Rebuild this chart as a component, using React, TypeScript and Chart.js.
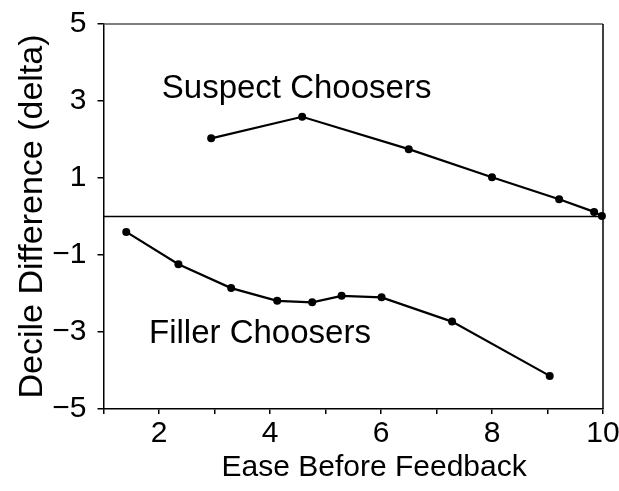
import React, { useEffect, useRef } from 'react';
import { Chart, registerables } from 'chart.js';

Chart.register(...registerables);

const suspectX = [2.94, 4.58, 6.5, 8.0, 9.21, 9.84, 9.98];
const suspectY = [2.03, 2.59, 1.75, 1.02, 0.45, 0.12, 0.01];
const fillerX = [1.41, 2.35, 3.3, 4.13, 4.76, 5.29, 6.01, 7.28, 9.04];
const fillerY = [-0.4, -1.24, -1.86, -2.19, -2.23, -2.06, -2.1, -2.73, -4.14];
const xTicks = [1, 2, 3, 4, 5, 6, 7, 8, 9, 10];
const xLabeled = [2, 4, 6, 8, 10];
const yTicks = [-5, -3, -1, 1, 3, 5];
const groupLabels = ['Suspect Choosers', 'Filler Choosers'];
const groupLabelX = [2.05, 1.82];
const groupLabelY = [3.08, -3.29];
const xTitle = 'Ease Before Feedback';
const yTitle = 'Decile Difference (delta)';

const FONT = '"Liberation Sans", Arial, sans-serif';

const framePlugin = {
  id: 'frame',
  beforeDatasetsDraw(chart: any) {
    const { ctx, chartArea } = chart;
    const y0 = chart.scales.y.getPixelForValue(0);
    ctx.save();
    ctx.strokeStyle = '#000';
    ctx.lineWidth = 1.5;
    ctx.beginPath();
    ctx.moveTo(chartArea.left, y0);
    ctx.lineTo(chartArea.right, y0);
    ctx.stroke();
    ctx.strokeStyle = '#555';
    ctx.beginPath();
    ctx.moveTo(chartArea.left, chartArea.top);
    ctx.lineTo(chartArea.right, chartArea.top);
    ctx.stroke();
    ctx.strokeStyle = '#000';
    ctx.beginPath();
    ctx.moveTo(chartArea.right, chartArea.top);
    ctx.lineTo(chartArea.right, chartArea.bottom);
    ctx.stroke();
    ctx.restore();
  },
  afterDatasetsDraw(chart: any) {
    const { ctx } = chart;
    const xs = chart.scales.x;
    const ys = chart.scales.y;
    ctx.save();
    ctx.fillStyle = '#000';
    ctx.font = `33px ${FONT}`;
    ctx.textAlign = 'left';
    ctx.textBaseline = 'alphabetic';
    groupLabels.forEach((t, i) => {
      ctx.fillText(t, xs.getPixelForValue(groupLabelX[i]), ys.getPixelForValue(groupLabelY[i]));
    });
    ctx.restore();
  },
};

export default function App() {
  const ref = useRef<HTMLCanvasElement | null>(null);
  useEffect(() => {
    if (!ref.current) return;
    const ds = (xs: number[], ys: number[]) => ({
      data: xs.map((x, i) => ({ x, y: ys[i] })),
      borderColor: '#000',
      backgroundColor: '#000',
      borderWidth: 2.2,
      pointRadius: 4,
      pointBackgroundColor: '#000',
      pointBorderColor: '#000',
      pointBorderWidth: 0,
      tension: 0,
      clip: false as any,
    });
    const chart = new Chart(ref.current, {
      type: 'line',
      data: {
        datasets: [ds(suspectX, suspectY), ds(fillerX, fillerY)],
      },
      options: {
        responsive: false,
        animation: false,
        layout: { padding: { top: 24, right: 16, left: 0, bottom: 0 } },
        plugins: { legend: { display: false }, tooltip: { enabled: false } },
        scales: {
          x: {
            type: 'linear',
            min: 1,
            max: 10,
            afterFit: (s: any) => {
              s.height = 82;
              s.paddingLeft = 0;
              s.paddingRight = 0;
            },
            afterBuildTicks: (s: any) => {
              s.ticks = xTicks.map((v) => ({ value: v }));
            },
            ticks: {
              autoSkip: false,
              maxRotation: 0,
              padding: 2,
              color: '#000',
              font: { family: FONT, size: 30 },
              callback: (v: any) => (xLabeled.includes(Number(v)) ? String(v) : ''),
            },
            grid: { drawOnChartArea: false, drawTicks: true, tickLength: 5, color: '#000', lineWidth: 1.5 },
            border: { display: true, color: '#000', width: 1.5 },
            title: {
              display: true,
              text: '\u00A0\u00A0\u00A0\u00A0\u00A0' + xTitle,
              color: '#000',
              font: { family: FONT, size: 30 },
              padding: { top: 0, bottom: 5 },
            },
          },
          y: {
            type: 'linear',
            min: -5,
            max: 5,
            afterFit: (s: any) => {
              s.width = 103.5;
              s.paddingTop = 0;
              s.paddingBottom = 0;
            },
            afterBuildTicks: (s: any) => {
              s.ticks = yTicks.map((v) => ({ value: v }));
            },
            ticks: {
              autoSkip: false,
              padding: 11,
              color: '#000',
              font: { family: FONT, size: 30 },
              callback: (v: any) => (Number(v) < 0 ? '\u2212' + Math.abs(Number(v)) : String(v)),
            },
            grid: { drawOnChartArea: false, drawTicks: true, tickLength: 6, color: '#000', lineWidth: 1.5 },
            border: { display: true, color: '#000', width: 1.5 },
            title: {
              display: true,
              text: yTitle,
              color: '#000',
              font: { family: FONT, size: 34 },
              padding: { top: 12, bottom: 0 },
            },
          },
        },
      },
      plugins: [framePlugin],
    });
    return () => chart.destroy();
  }, []);
  return (
    <div style={{ position: 'fixed', left: 0, top: 0, width: 619, height: 491, background: '#fff' }}>
      <canvas ref={ref} width={619} height={491} style={{ display: 'block' }} />
    </div>
  );
}
